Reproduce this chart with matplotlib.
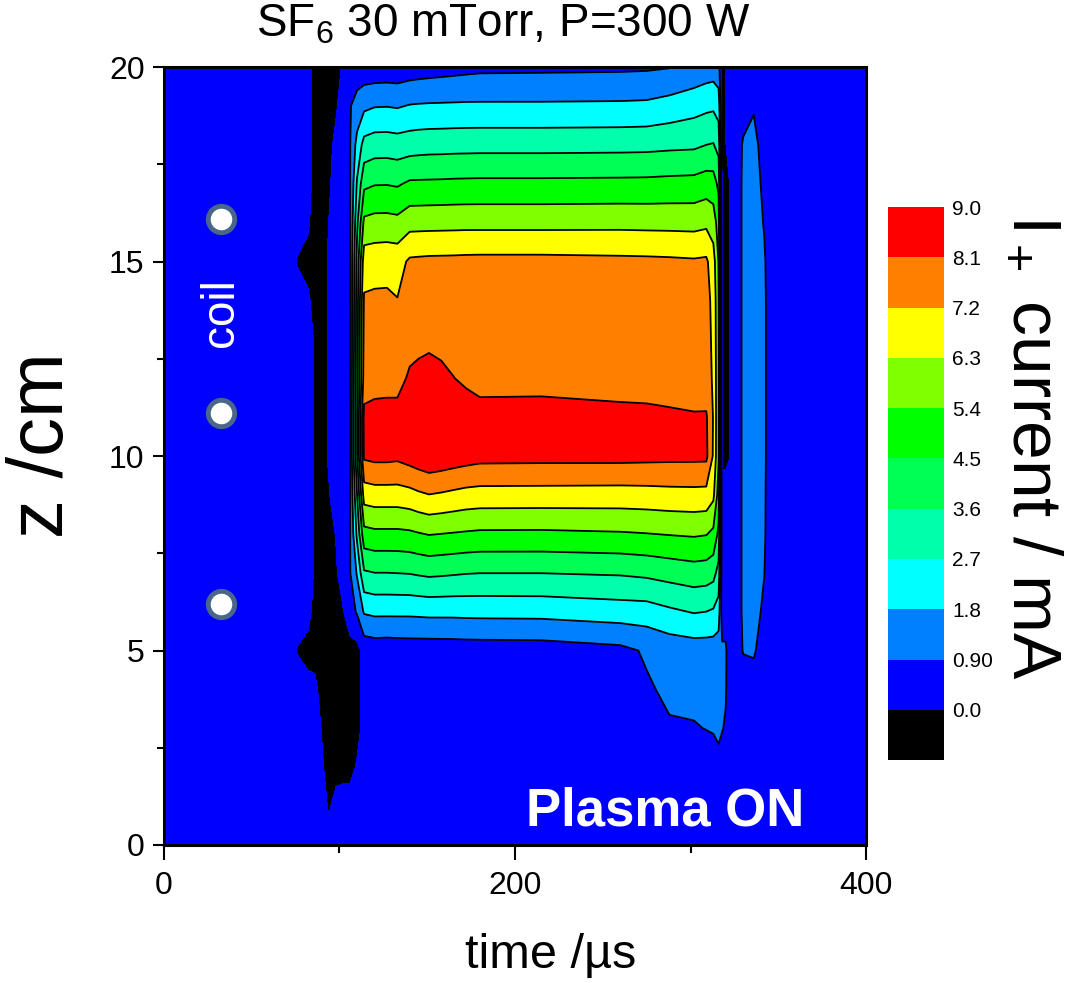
import numpy as np
import matplotlib
matplotlib.use('Agg')
import matplotlib.pyplot as plt

plt.rcParams['font.family'] = ['Liberation Sans', 'DejaVu Sans']
plt.rcParams['mathtext.fontset'] = 'custom'
plt.rcParams['mathtext.rm'] = 'Liberation Sans'
plt.rcParams['mathtext.it'] = 'Liberation Sans:italic'

t_us = [0, 70, 76, 82, 86, 90, 94, 98, 102, 106, 110, 114, 120, 127, 133, 140,
        145, 151, 158, 165, 172, 180, 215, 260, 275, 288, 302, 309, 313, 316,
        318, 320, 322, 326, 330, 336, 342, 346, 400]
# axial positions (cm)
z_cm = [0, 1, 2, 3, 4, 5, 6, 7, 8, 9, 10, 11, 12, 13, 14, 15, 16, 17, 18, 19, 20]

# I+ current (mA), one row per time, values for z = 0..20 cm
i_plus = [
    [.40, .40, .40, .40, .40, .40, .40, .40, .40, .40, .40, .40, .40, .40, .40, .40, .40, .40, .40, .40, .40],  # 0
    [.40, .40, .40, .40, .40, .40, .40, .40, .40, .40, .40, .40, .40, .40, .40, .40, .40, .40, .40, .40, .40],  # 70
    [.40, .40, .40, .40, .40, -.05, .40, .40, .40, .40, .40, .40, .40, .40, .30, -.05, .30, .40, .40, .40, .40],  # 76
    [.40, .40, .40, .40, .30, -.30, .30, .35, .35, .35, .35, .35, .35, .35, .10, -.20, .10, .30, .30, .30, .30],  # 82
    [.40, .40, .40, .35, .20, -.30, -.30, -.10, -.10, -.10, -.10, -.10, -.10, -.10, -.20, -.30, -.30, -.30, -.30, -.30, -.30],  # 86
    [.40, .35, .10, -.05, -.30, -.30, -.30, -.30, -.30, -.30, -.30, -.30, -.30, -.30, -.30, -.30, -.30, -.30, -.30, -.30, -.30],  # 90
    [.25, -.10, -.30, -.30, -.30, -.30, -.30, -.30, -.30, -.05, .10, .10, .10, .10, .10, .10, .02, -.10, -.20, -.30, -.30],  # 94
    [.40, .30, -.30, -.30, -.30, -.30, -.30, -.10, .05, .40, .40, .40, .40, .40, .40, .40, .40, .30, .20, -.10, -.30],  # 98
    [.40, .40, -.30, -.30, -.30, -.30, -.05, .40, .40, .40, .40, .40, .40, .40, .40, .40, .40, .40, .40, .40, .10],  # 102
    [.40, .40, -.30, -.30, -.30, -.30, .50, .85, .85, .85, .85, .85, .85, .85, .85, .85, .85, .85, .85, .85, .50],  # 106
    [.40, .40, .10, -.30, -.30, -.30, 1.0, 1.9, 2.9, 3.6, 4.4, 4.4, 4.2, 4.1, 4.05, 3.9, 3.4, 2.8, 2.1, 1.2, .45],  # 110
    [.40, .40, .40, .30, .30, .30, 1.9, 3.5, 5.1, 6.7, 8.25, 8.35, 7.6, 7.45, 7.3, 6.8, 5.6, 4.3, 3.0, 1.6, .30],  # 114
    [.40, .40, .40, .40, .40, .38, 2.0, 3.6, 5.2, 6.8, 8.35, 8.45, 7.7, 7.5, 7.35, 6.85, 5.7, 4.45, 3.15, 1.75, .30],  # 120
    [.40, .40, .40, .40, .40, .35, 2.0, 3.6, 5.2, 6.8, 8.35, 8.5, 7.7, 7.5, 7.35, 6.89, 5.71, 4.46, 3.16, 1.77, .32],  # 127
    [.40, .40, .40, .40, .40, .38, 2.0, 3.62, 5.2, 6.8, 8.3, 8.5, 7.7, 7.4, 7.23, 6.85, 5.65, 4.4, 3.1, 1.72, .30],  # 133
    [.40, .40, .40, .40, .40, .40, 2.0, 3.65, 5.25, 6.9, 8.5, 8.7, 8.27, 7.7, 7.5, 7.34, 5.98, 4.63, 3.18, 1.85, .40],  # 140
    [.38, .38, .39, .40, .41, .40, 2.02, 3.72, 5.35, 7.05, 8.65, 8.85, 8.5, 7.7, 7.52, 7.37, 5.99, 4.64, 3.22, 1.88, .45],  # 145
    [.35, .36, .38, .40, .42, .40, 2.05, 3.79, 5.45, 7.18, 8.81, 8.95, 8.84, 7.7, 7.55, 7.4, 6.0, 4.65, 3.25, 1.9, .50],  # 151
    [.34, .35, .37, .39, .42, .41, 2.05, 3.75, 5.4, 7.1, 8.72, 8.85, 8.43, 7.7, 7.55, 7.41, 6.01, 4.66, 3.26, 1.91, .55],  # 158
    [.33, .34, .36, .38, .42, .42, 2.05, 3.7, 5.35, 7.0, 8.6, 8.7, 8.12, 7.7, 7.55, 7.42, 6.02, 4.68, 3.28, 1.92, .60],  # 165
    [.32, .33, .35, .38, .42, .44, 2.07, 3.65, 5.3, 6.9, 8.5, 8.6, 7.93, 7.68, 7.55, 7.44, 6.03, 4.69, 3.29, 1.93, .65],  # 172
    [.32, .33, .35, .38, .42, .45, 2.08, 3.62, 5.25, 6.85, 8.4, 8.5, 7.72, 7.65, 7.55, 7.45, 6.03, 4.7, 3.3, 1.93, .70],  # 180
    [.30, .32, .35, .38, .42, .47, 2.10, 3.62, 5.24, 6.84, 8.38, 8.50, 7.75, 7.65, 7.55, 7.45, 6.03, 4.70, 3.30, 1.93, .72],  # 215
    [.30, .32, .35, .40, .45, .68, 2.27, 3.7, 5.32, 6.82, 8.38, 8.45, 7.55, 7.5, 7.45, 7.4, 6.05, 4.72, 3.32, 1.95, .75],  # 260
    [.30, .32, .36, .45, .80, 1.0, 2.3, 3.8, 5.38, 6.85, 8.35, 8.4, 7.55, 7.5, 7.45, 7.38, 6.03, 4.73, 3.34, 1.98, .78],  # 275
    [.30, .34, .45, .82, 1.05, 1.25, 2.55, 3.95, 5.45, 6.9, 8.32, 8.3, 7.52, 7.47, 7.42, 7.35, 6.02, 4.77, 3.4, 2.15, .86],  # 288
    [.30, .35, .45, .85, 1.1, 1.35, 2.76, 4.1, 5.51, 6.92, 8.31, 8.2, 7.5, 7.45, 7.4, 7.3, 6.0, 4.8, 3.44, 2.37, 1.13],  # 302
    [.32, .38, .45, .92, 1.1, 1.35, 2.7, 4.05, 5.45, 6.9, 8.3, 8.2, 7.55, 7.5, 7.45, 7.35, 6.1, 4.95, 3.6, 2.5, 1.3],  # 309
    [.33, .40, .60, .95, 1.1, 1.35, 2.6, 3.9, 5.2, 6.5, 7.1, 7.15, 7.1, 7.05, 7.0, 6.7, 5.85, 4.9, 3.65, 2.55, 1.35],  # 313
    [.35, .40, .75, 1.0, 1.1, 1.3, 2.3, 3.3, 4.3, 5.0, 5.5, 5.5, 5.5, 5.45, 5.42, 5.35, 5.0, 4.3, 3.3, 2.3, 1.2],  # 316
    [.40, .40, .45, .95, 1.1, 1.05, .40, .30, .30, .20, -.10, -.10, -.10, -.10, -.10, -.10, -.10, -.10, -.10, -.10, -.10],  # 318
    [.40, .40, .40, .80, 1.0, 1.05, .40, .35, .35, .35, -.20, -.20, -.20, -.20, -.20, -.20, -.20, -.20, -.05, -.05, -.05],  # 320
    [.40, .40, .40, .40, .40, .40, .40, .40, .40, .40, -.05, -.05, -.05, -.05, -.05, -.05, -.05, -.05, .40, .40, .40],  # 322
    [.40, .40, .40, .40, .40, .40, .40, .40, .40, .40, .40, .40, .40, .40, .40, .40, .40, .40, .40, .40, .40],  # 326
    [.40, .40, .40, .40, .40, .95, 1.05, 1.05, 1.05, 1.05, 1.05, 1.05, 1.05, 1.05, 1.05, 1.05, 1.05, 1.05, 1.0, .50, .40],  # 330
    [.40, .40, .40, .40, .50, 1.0, 1.2, 1.28, 1.3, 1.3, 1.3, 1.3, 1.3, 1.3, 1.3, 1.3, 1.3, 1.28, 1.23, .80, .40],  # 336
    [.40, .40, .40, .40, .40, .50, .75, .92, 1.0, 1.02, 1.05, 1.05, 1.05, 1.05, 1.05, 1.0, .85, .70, .45, .40, .40],  # 342
    [.40, .40, .40, .40, .40, .40, .40, .40, .40, .40, .40, .40, .40, .40, .40, .40, .40, .40, .40, .40, .40],  # 346
    [.40, .40, .40, .40, .40, .40, .40, .40, .40, .40, .40, .40, .40, .40, .40, .40, .40, .40, .40, .40, .40],  # 400
]

levels = [-0.9, 0.0, 0.9, 1.8, 2.7, 3.6, 4.5, 5.4, 6.3, 7.2, 8.1, 9.0]
level_colors = ['#000000', '#0000ff', '#0080ff', '#00ffff', '#00ffaa', '#00ff55',
                '#00ff00', '#80ff00', '#ffff00', '#ff8000', '#ff0000']
cbar_labels = ['0.0', '0.90', '1.8', '2.7', '3.6', '4.5', '5.4', '6.3', '7.2', '8.1', '9.0']

# coil positions
coil_t = [32.5, 32.5, 32.5]
coil_z = [16.1, 11.1, 6.2]

fig = plt.figure(figsize=(10.71, 9.83), dpi=100)
ax = fig.add_axes([0.1531, 0.1404, 0.6555, 0.7914])

T, Z = np.meshgrid(t_us, z_cm)
data = np.array(i_plus).T
cf = ax.contourf(T, Z, data, levels=levels, colors=level_colors)
ax.contour(T, Z, data, levels=levels[2:-1], colors='k', linewidths=1.3)

ax.plot(coil_t, coil_z, 'o', ms=19, mfc='white', mec='#4a678a', mew=3.5, zorder=5)
ax.text(32.5, 13.68, 'coil', rotation=90, color='white', fontsize=33,
        ha='center', va='center')
ax.text(365, 0.5, 'Plasma ON', color='white', fontsize=38, fontweight='bold',
        ha='right', va='baseline')

ax.set_xlim(0, 400)
ax.set_ylim(0, 20)
ax.set_xticks([0, 200, 400])
ax.set_xticks([100, 300], minor=True)
ax.set_yticks([0, 5, 10, 15, 20])
ax.set_yticks([2.5, 7.5, 12.5, 17.5], minor=True)
ax.tick_params(axis='x', which='major', direction='out', length=11, width=1.5,
               labelsize=23, pad=8)
ax.tick_params(axis='x', which='minor', direction='out', length=6, width=1.5)
ax.tick_params(axis='y', which='major', direction='out', length=8, width=1.5,
               labelsize=23, pad=6)
ax.tick_params(axis='y', which='minor', direction='out', length=5, width=1.5)
for sp in ax.spines.values():
    sp.set_linewidth(2.2)

fig.text(503 / 1071, 1 - 25 / 983, r'SF$_6$ 30 mTorr, P=300 W', ha='center',
         va='center', fontsize=33)
fig.text(6 / 1071, 1 - 445 / 983, 'z /cm', rotation=90, ha='left',
         va='center', fontsize=56)
fig.text(551 / 1071, 1 - 955 / 983, 'time /µs', ha='center', va='center',
         fontsize=35)

cax = fig.add_axes([0.829, 0.2268, 0.0523, 0.5626])
cb = fig.colorbar(cf, cax=cax, ticks=levels[1:])
cb.ax.set_yticklabels(cbar_labels)
cb.outline.set_visible(False)
cax.tick_params(length=0, labelsize=15, pad=6)
fig.text(1067 / 1071, 1 - 447 / 983, r'I$_+$ current / mA', rotation=-90,
         ha='right', va='center', fontsize=50)

fig.savefig('out.png', dpi=100)
